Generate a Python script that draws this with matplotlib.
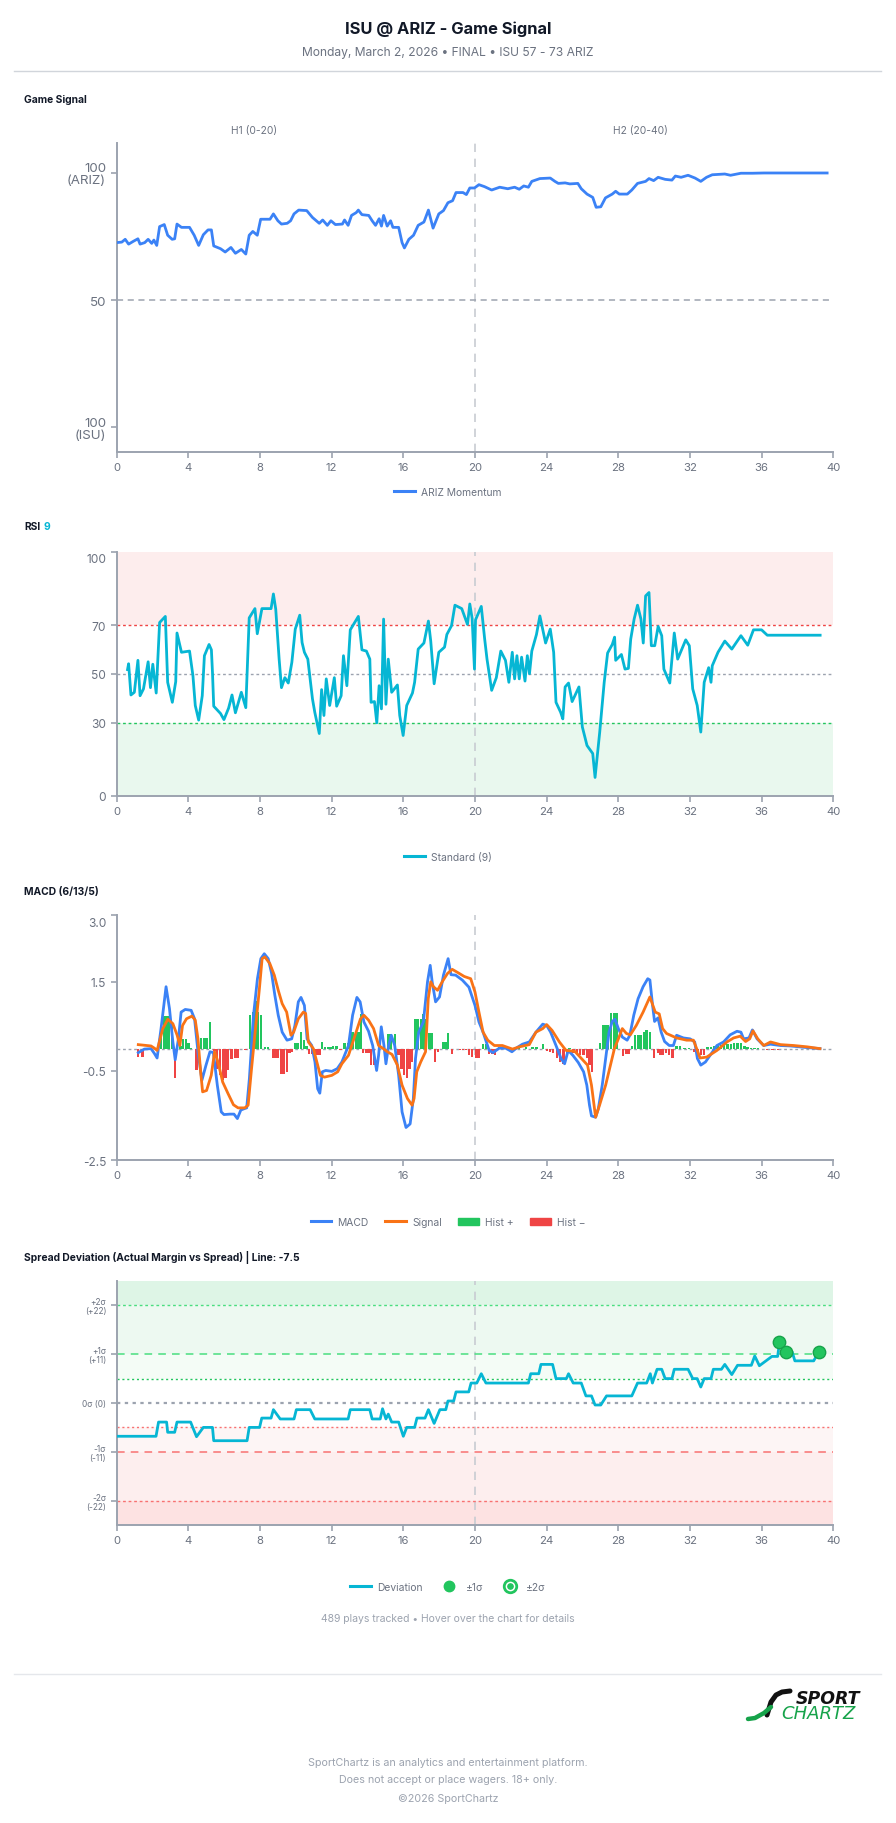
import matplotlib as mpl
import matplotlib.pyplot as plt
from matplotlib.lines import Line2D
from matplotlib.patches import Patch
from matplotlib.transforms import ScaledTranslation

mpl.rcParams['font.family'] = ['Inter', 'DejaVu Sans']

W, H = 896, 1824

# ---- Game Signal (ARIZ momentum, 0 = ISU 100, 100 = ARIZ 100)
gs_t = [0.0, 0.29, 0.48, 0.67, 0.93, 1.19, 1.31, 1.57, 1.76, 1.96, 2.08, 2.24, 2.40, 2.66, 2.85,
        3.10, 3.24, 3.37, 3.62, 4.07, 4.33, 4.58, 4.84, 5.10, 5.29, 5.42, 5.80, 6.06, 6.38, 6.63,
        6.96, 7.21, 7.40, 7.60, 7.85, 8.04, 8.56, 8.75, 9.00, 9.20, 9.52, 9.71, 9.90, 10.16, 10.61,
        10.93, 11.31, 11.50, 11.76, 11.96, 12.21, 12.60, 12.72, 12.92, 13.11, 13.37, 13.49, 13.69,
        14.07, 14.26, 14.45, 14.65, 14.78, 14.90, 15.10, 15.29, 15.42, 15.74, 15.93, 16.06, 16.31,
        16.57, 16.83, 17.15, 17.40, 17.66, 17.98, 18.24, 18.49, 18.75, 18.94, 19.33, 19.52, 19.71,
        19.97, 20.22, 20.54, 20.93, 21.38, 21.83, 22.21, 22.47, 22.72, 22.98, 23.17, 23.62, 24.20,
        24.46, 24.65, 25.03, 25.29, 25.74, 25.93, 26.25, 26.57, 26.76, 27.02, 27.28, 27.66, 27.85,
        28.05, 28.50, 28.75, 29.07, 29.52, 29.71, 29.97, 30.22, 30.61, 30.99, 31.18, 31.50, 31.89,
        32.28, 32.60, 32.92, 33.24, 33.94, 34.26, 34.84, 35.48, 36.12, 39.65]
gs_v = [72.6, 72.8, 73.9, 72.0, 73.1, 74.1, 72.0, 72.6, 73.9, 72.3, 73.6, 71.5, 78.9, 79.7, 75.5,
        73.9, 74.1, 79.9, 78.6, 78.6, 75.5, 71.5, 75.7, 77.6, 77.6, 71.3, 70.2, 68.9, 70.7, 68.4,
        69.9, 68.1, 75.5, 77.0, 75.5, 81.8, 81.8, 83.9, 81.2, 79.9, 80.2, 81.2, 83.9, 85.4, 85.2,
        82.5, 80.2, 81.5, 79.4, 81.2, 79.7, 79.9, 81.5, 79.4, 83.3, 84.4, 85.4, 83.6,
        83.3, 81.2, 79.4, 82.0, 79.1, 83.3, 79.1, 81.2, 78.6, 78.6, 72.6, 70.5, 73.9,
        75.5, 79.4, 80.7, 85.4, 78.3, 83.9, 85.2, 88.3, 89.1, 92.3, 92.3, 91.5, 94.1,
        94.1, 95.4, 94.6, 93.3, 94.4, 93.8, 94.4, 93.6, 94.9, 94.4, 96.7, 97.8, 98.0,
        96.7, 95.9, 96.1, 95.7, 95.9, 93.8, 91.7, 90.4, 86.5, 86.7, 90.2, 91.7, 92.8,
        91.7, 91.7, 93.3, 95.9, 96.7, 97.8, 97.0, 98.3, 97.5, 97.2, 98.8, 98.3, 99.1,
        98.0, 96.7, 98.3, 99.3, 99.6, 99.1, 99.9, 99.9, 100.0, 100.0]

# ---- RSI (9)
rsi_t = [0.61, 0.67, 0.80, 0.99, 1.19, 1.31, 1.50, 1.76, 1.89, 2.02, 2.21, 2.40, 2.72, 2.85, 3.11,
         3.30, 3.37, 3.62, 4.07, 4.26, 4.39, 4.58, 4.78, 4.90, 5.16, 5.29, 5.35, 5.42, 5.80, 5.99,
         6.25, 6.44, 6.63, 6.96, 7.21, 7.40, 7.72, 7.85, 8.11, 8.62, 8.75, 8.88, 9.07, 9.20, 9.39,
         9.58, 9.78, 9.97, 10.22, 10.35, 10.48, 10.67, 10.93, 11.06, 11.31, 11.44, 11.57, 11.70,
         11.89, 12.15, 12.28, 12.53, 12.66, 12.85, 13.04, 13.49, 13.69, 13.94, 14.13, 14.20, 14.39,
         14.52, 14.65, 14.78, 14.90, 15.03, 15.16, 15.35, 15.67, 15.80, 15.99, 16.19, 16.51, 16.63,
         16.83, 17.15, 17.40, 17.53, 17.72, 17.98, 18.30, 18.43, 18.69, 18.88, 19.26, 19.58, 19.71,
         19.84, 19.97, 20.03, 20.35, 20.54, 20.67, 20.93, 21.19, 21.44, 21.70, 21.89, 22.08, 22.21,
         22.34, 22.47, 22.60, 22.79, 22.92, 23.04, 23.17, 23.43, 23.62, 23.94, 24.20, 24.39, 24.52,
         24.78, 24.90, 25.03, 25.22, 25.42, 25.80, 25.99, 26.25, 26.57, 26.70, 26.96, 27.21, 27.40,
         27.66, 27.79, 27.85, 28.17, 28.37, 28.56, 28.69, 28.88, 29.07, 29.26, 29.39, 29.52, 29.71,
         29.84, 30.03, 30.22, 30.42, 30.54, 30.87, 31.12, 31.31, 31.76, 31.96, 32.15, 32.40, 32.60,
         32.79, 33.04, 33.17, 33.24, 33.56, 33.94, 34.33, 34.84, 35.22, 35.54, 35.99, 36.31, 39.26]
rsi_v = [51.8, 54.2, 41.4, 42.5, 55.6, 41.1, 43.9, 55.0, 44.4, 54.0, 42.2, 71.1, 73.6, 46.6, 38.4,
         46.9, 66.8, 58.9, 59.4, 49.3, 37.1, 31.1, 41.1, 57.5, 62.1, 59.9, 50.7, 36.8, 33.8, 31.3,
         36.0, 41.4, 34.1, 42.5, 36.2, 73.0, 76.8, 66.5, 76.8, 76.8, 82.8, 76.6, 56.1, 44.4, 48.5,
         46.3, 54.8, 68.4, 74.1, 62.9, 58.9, 56.1, 39.8, 34.3, 25.6, 43.6, 33.0, 48.0,
         37.1, 48.5, 36.8, 41.1, 57.5, 45.2, 68.1, 73.6, 59.9, 59.4, 56.1, 38.4, 38.7,
         30.0, 45.2, 35.7, 72.5, 37.6, 56.1, 42.5, 45.5, 33.0, 24.8, 37.1, 42.2, 46.6,
         60.2, 62.7, 71.7, 63.5, 46.0, 58.9, 61.0, 66.2, 69.8, 78.2, 76.8, 70.3, 78.7,
         72.8, 52.0, 72.2, 77.7, 64.3, 56.1, 43.3, 48.5, 59.4, 55.6, 46.6, 58.9, 48.0,
         57.5, 48.0, 56.9, 47.1, 57.5, 50.1, 59.4, 66.2, 73.8, 62.7, 68.4, 58.9, 38.4,
         34.3, 31.6, 44.7, 46.3, 38.7, 44.7, 28.3, 20.7, 17.4, 7.6, 26.2, 46.6, 58.6,
         62.1, 65.1, 55.6, 58.0, 52.0, 52.3, 64.3, 72.5, 78.2, 72.5, 62.7, 82.0, 83.4,
         61.6, 61.6, 69.5, 65.7, 52.0, 46.3, 66.8, 56.1, 64.0, 61.6, 43.9, 37.1, 26.2,
         46.6, 52.6, 46.6, 53.4, 58.9, 63.5, 60.2, 65.7, 61.8, 68.1, 68.1, 65.9, 65.9]

# ---- MACD (6/13/5)
macd_t = [1.21, 1.55, 1.92, 2.11, 2.26, 2.48, 2.76, 2.95, 3.14, 3.27, 3.45, 3.60, 3.83, 4.16, 4.35,
          4.54, 4.76, 4.99, 5.21, 5.40, 5.62, 5.84, 5.99, 6.33, 6.55, 6.74, 6.93, 7.11, 7.26, 7.41,
          7.64, 7.86, 8.05, 8.24, 8.46, 8.65, 8.83, 9.02, 9.24, 9.51, 9.77, 9.95, 10.14, 10.29,
          10.48, 10.63, 10.89, 11.07, 11.22, 11.34, 11.48, 11.67, 12.01, 12.31, 12.57, 12.94, 13.17,
          13.41, 13.59, 13.80, 14.06, 14.29, 14.51, 14.62, 14.77, 14.92, 15.03, 15.18, 15.33, 15.52,
          15.74, 15.93, 16.15, 16.38, 16.56, 16.68, 16.86, 17.12, 17.35, 17.50, 17.61, 17.80, 18.02,
          18.24, 18.50, 18.66, 18.92, 19.29, 19.66, 20.00, 20.22, 20.45, 20.79, 21.01, 21.35, 21.72,
          22.06, 22.37, 22.65, 23.03, 23.40, 23.78, 24.00, 24.22, 24.52, 24.80, 25.00, 25.20, 25.46,
          25.76, 26.06, 26.24, 26.39, 26.50, 26.73, 26.88, 27.10, 27.29, 27.48, 27.66, 27.81, 28.00,
          28.22, 28.49, 28.64, 28.86, 29.10, 29.38, 29.64, 29.76, 29.91, 30.02, 30.21, 30.39, 30.58,
          30.84, 31.07, 31.25, 31.63, 32.00, 32.26, 32.41, 32.60, 32.86, 33.12, 33.50, 33.87, 34.24,
          34.62, 34.84, 34.99, 35.29, 35.48, 35.74, 36.11, 36.49, 37.05, 37.61, 38.36, 39.25]
macd_v = [-0.09, -0.01, 0.0, -0.11, -0.21, 0.45, 1.39, 0.90, 0.15, -0.25, 0.22, 0.82, 0.88, 0.86, 0.67,
          -0.07, -0.71, -0.37, -0.07, -0.09, -0.82, -1.42, -1.48, -1.47, -1.47, -1.57, -1.38, -1.35,
          -1.33, -0.67, 0.75, 1.57, 2.02, 2.13, 2.02, 1.69, 1.20, 0.75, 0.37, 0.19, 0.22, 0.52, 1.05,
          1.15, 0.97, 0.22, 0.07, -0.30, -0.90, -1.00, -0.52, -0.49, -0.51, -0.45, -0.30, 0.07, 0.75,
          1.15, 1.05, 0.60, 0.39, 0.07, -0.49, -0.15, 0.49, 0.07, -0.34, 0.07, 0.30, 0.07,
          -0.60, -1.42, -1.77, -1.69, -1.12, -0.22, 0.37, 0.60, 1.50, 1.87, 1.50, 1.05, 1.16,
          1.65, 2.02, 1.66, 1.65, 1.54, 1.38, 0.97, 0.60, 0.37, -0.04, -0.09, 0.01, 0.01,
          -0.07, 0.03, 0.10, 0.15, 0.37, 0.55, 0.52, 0.37, 0.07, -0.22, -0.34, -0.04, -0.15,
          -0.31, -0.52, -0.82, -1.27, -1.51, -1.54, -1.35, -0.82, -0.22, 0.37, 0.61, 0.66, 0.45,
          0.26, 0.19, 0.30, 0.75, 1.12, 1.39, 1.57, 1.54, 0.97, 0.61, 0.69, 0.37, 0.16,
          0.07, 0.07, 0.30, 0.24, 0.22, 0.15, -0.22, -0.37, -0.30, -0.15, 0.07, 0.15, 0.31,
          0.39, 0.37, 0.22, 0.24, 0.42, 0.22, 0.07, 0.10, 0.07, 0.06, 0.03, 0.0]

sig_t = [1.21, 1.92, 2.11, 2.26, 2.58, 2.86, 3.14, 3.38, 3.53, 3.68, 3.90, 4.20, 4.39, 4.54, 4.69,
         4.80, 5.02, 5.28, 5.47, 5.66, 5.92, 6.22, 6.52, 6.78, 7.15, 7.34, 7.53, 7.75, 7.97, 8.12,
         8.27, 8.55, 8.80, 9.02, 9.24, 9.49, 9.73, 9.88, 10.14, 10.42, 10.55, 10.70, 10.98, 11.22,
         11.37, 11.60, 12.01, 12.34, 12.57, 12.94, 13.31, 13.61, 13.80, 14.06, 14.34, 14.62, 14.85,
         15.11, 15.37, 15.67, 15.93, 16.23, 16.49, 16.60, 16.75, 16.97, 17.24, 17.39, 17.53, 17.68,
         17.91, 18.17, 18.47, 18.73, 19.03, 19.40, 19.76, 20.00, 20.22, 20.45, 20.71, 21.08, 21.53,
         22.09, 22.47, 23.03, 23.40, 23.78, 24.00, 24.30, 24.71, 25.08, 25.57, 25.94, 26.28, 26.50,
         26.73, 26.95, 27.29, 27.51, 27.78, 28.00, 28.22, 28.45, 28.67, 29.00, 29.38, 29.76, 30.06,
         30.28, 30.47, 30.69, 31.25, 31.81, 32.19, 32.37, 32.56, 32.93, 33.50, 34.06, 34.43, 34.80,
         35.10, 35.33, 35.51, 35.78, 36.11, 36.49, 37.05, 37.79, 38.54, 39.25]
sig_v = [0.09, 0.06, 0.01, -0.04, 0.45, 0.66, 0.56, 0.30, 0.07, 0.52, 0.67, 0.73, 0.64, 0.22, -0.52,
         -0.97, -0.94, -0.60, -0.07, -0.30, -0.75, -1.01, -1.26, -1.33, -1.33, -1.27, -0.45, 0.45,
         1.35, 2.02, 2.06, 1.91, 1.65, 1.31, 1.01, 0.82, 0.30, 0.37, 0.67, 0.82, 0.79, 0.15, 0.0,
         -0.37, -0.60, -0.64, -0.60, -0.52, -0.34, -0.15, 0.30, 0.67, 0.75, 0.64, 0.45, 0.07, 0.01,
         -0.07, -0.13, -0.37, -0.82, -1.12, -1.27, -1.12, -0.52, -0.30, -0.07, 1.12, 1.50, 1.39,
         1.31, 1.50, 1.69, 1.78, 1.71, 1.62, 1.57, 1.27, 0.82, 0.37, 0.19, 0.07, 0.07,
         -0.01, 0.04, 0.09, 0.37, 0.45, 0.54, 0.41, 0.15, -0.04, -0.06, -0.22, -0.37, -0.82,
         -1.54, -1.27, -0.82, -0.45, 0.0, 0.22, 0.45, 0.34, 0.31, 0.52, 0.82, 1.16, 0.82,
         0.78, 0.45, 0.34, 0.24, 0.19, 0.19, 0.0, -0.21, -0.19, -0.04, 0.15, 0.24, 0.28,
         0.16, 0.22, 0.40, 0.22, 0.07, 0.15, 0.09, 0.07, 0.04, 0.0]

hist_t = [1.21, 1.44, 2.48, 2.63, 2.78, 2.93, 3.08, 3.27, 3.57, 3.72, 3.87, 4.01, 4.16, 4.46, 4.72,
          4.87, 5.02, 5.21, 5.47, 5.62, 5.77, 5.92, 6.07, 6.22, 6.41, 6.59, 6.74, 7.19, 7.45, 7.60,
          7.75, 7.90, 8.05, 8.27, 8.46, 8.72, 8.87, 9.02, 9.21, 9.36, 9.51, 9.65, 9.80, 9.99, 10.14,
          10.29, 10.44, 10.59, 10.74, 10.89, 11.07, 11.22, 11.34, 11.48, 11.63, 11.78, 11.93, 12.08,
          12.27, 12.49, 12.72, 12.90, 13.05, 13.20, 13.35, 13.50, 13.63, 13.76, 13.91, 14.06, 14.21,
          14.36, 15.18, 15.33, 15.52, 15.74, 15.89, 16.04, 16.19, 16.34, 16.49, 16.68, 16.83, 16.97,
          17.12, 17.27, 17.46, 17.61, 17.76, 17.95, 18.21, 18.36, 18.51, 18.73, 19.18, 19.33, 19.51,
          19.66, 19.85, 20.04, 20.19, 20.45, 20.64, 20.79, 20.97, 21.12, 21.35, 21.53, 22.09, 22.47,
          22.84, 23.21, 23.44, 23.78, 24.00, 24.19, 24.37, 24.56, 24.75, 24.93, 25.12, 25.27, 25.50,
          25.68, 25.87, 26.06, 26.24, 26.39, 26.54, 26.99, 27.14, 27.29, 27.44, 27.59, 27.74, 27.89,
          28.26, 28.45, 28.60, 28.75, 28.93, 29.08, 29.23, 29.42, 29.57, 29.76, 29.98, 30.21, 30.36,
          30.50, 30.65, 30.84, 31.03, 31.25, 31.44, 31.70, 31.93, 32.22, 32.41, 32.60, 32.79, 32.97,
          33.16, 33.35, 33.53, 33.72, 33.91, 34.09, 34.28, 34.47, 34.65, 34.84, 35.03, 35.21, 35.40,
          35.59, 35.78, 36.30, 36.60, 36.90, 37.20, 37.50, 37.80, 38.10, 38.40]
hist_v = [-0.19, -0.19, 0.30, 0.73, 0.73, 0.73, 0.52, -0.67, 0.07, 0.22, 0.22, 0.13, 0.02, -0.48, 0.25,
          0.25, 0.25, 0.60, -0.05, -0.45, -0.60, -0.71, -0.67, -0.49, -0.24, -0.22, -0.22, -0.04, 0.75, 0.82,
          1.06, 0.82, 0.75, 0.03, 0.03, -0.22, -0.22, -0.22, -0.56, -0.56, -0.52, -0.10, -0.08, 0.13, 0.13,
          0.37, 0.19, 0.07, -0.13, -0.11, -0.09, -0.15, -0.15, 0.16, 0.04, 0.04, 0.04, 0.07,
          0.07, -0.02, 0.13, 0.13, 0.37, 0.37, 0.37, 0.37, 0.78, -0.09, -0.09, -0.09, -0.37,
          -0.37, 0.33, 0.33, 0.33, -0.15, -0.45, -0.60, -0.67, -0.45, -0.30, 0.66, 0.66, 0.66,
          0.78, 0.66, 0.34, 0.34, -0.30, -0.07, 0.16, 0.16, 0.34, -0.11, -0.04, -0.04, -0.04,
          -0.15, -0.19, -0.22, -0.22, 0.10, 0.10, -0.13, -0.13, -0.15, 0.03, 0.03, 0.02, 0.04,
          0.04, 0.04, 0.03, 0.10, -0.06, -0.07, -0.09, -0.22, -0.30, -0.34, -0.11, 0.02, -0.09,
          -0.11, -0.15, -0.15, -0.22, -0.37, -0.52, 0.13, 0.52, 0.52, 0.52, 0.79, 0.79, 0.79,
          -0.16, -0.13, -0.13, 0.07, 0.30, 0.30, 0.30, 0.37, 0.42, 0.37, -0.22, -0.09, -0.15,
          -0.15, -0.09, -0.15, -0.22, 0.05, 0.05, 0.02, 0.02, -0.07, -0.09, -0.15, -0.15, 0.03,
          0.03, 0.05, 0.07, 0.09, 0.09, 0.11, 0.11, 0.13, 0.13, 0.12, 0.07, 0.04, 0.01,
          0.01, 0.01, -0.02, -0.02, -0.02, -0.015, -0.015, -0.01, -0.01, -0.01]

# ---- Spread deviation (actual margin vs spread, line -7.5)
dev_t = [0.0, 2.20, 2.34, 2.79, 2.85, 3.24, 3.37, 4.13, 4.46, 4.84, 5.35, 5.42, 7.28, 7.40, 7.98,
         8.10, 8.62, 8.75, 9.13, 9.90, 10.03, 10.80, 11.06, 12.92, 13.04, 14.13, 14.26, 14.71, 14.84,
         15.03, 15.16, 15.35, 15.74, 16.00, 16.19, 16.63, 16.76, 17.21, 17.40, 17.72, 18.04, 18.37,
         18.49, 18.81, 18.94, 19.65, 19.78, 20.10, 20.35, 20.61, 22.98, 23.11, 23.56, 23.68, 24.33,
         24.52, 25.10, 25.22, 25.48, 25.93, 26.19, 26.50, 26.70, 27.02, 27.34, 28.75, 29.07, 29.58,
         29.78, 29.90, 30.16, 30.42, 30.61, 30.99, 31.12, 31.89, 32.15, 32.40, 32.60, 32.79, 33.17,
         33.30, 33.75, 33.94, 34.33, 34.65, 35.42, 35.61, 35.87, 36.57, 36.89, 36.99, 37.37, 37.70,
         37.85, 38.90, 39.18]
dev_v = [-7.5, -7.5, -4.3, -4.3, -6.6, -6.6, -4.3, -4.3, -7.6, -5.5, -5.5, -8.5, -8.5, -5.5, -5.5,
         -3.4, -3.4, -1.5, -3.6, -3.6, -1.5, -1.5, -3.6, -3.6, -1.5, -1.5, -3.6, -3.6, -1.3,
         -3.6, -2.5, -4.3, -4.3, -7.5, -5.5, -5.5, -3.4, -3.4, -1.5, -4.6, -1.5, -1.5,
         0.45, 0.45, 2.5, 2.5, 4.5, 4.5, 6.6, 4.5, 4.5, 6.6, 6.6, 8.7, 8.7,
         5.5, 5.5, 6.6, 4.5, 4.5, 1.6, 1.6, -0.45, -0.45, 1.6, 1.6, 4.5, 4.5,
         6.6, 4.5, 7.6, 7.6, 5.5, 5.5, 7.6, 7.6, 5.5, 5.5, 3.6, 5.5, 5.5,
         7.6, 7.6, 8.7, 6.4, 8.5, 8.5, 10.6, 8.4, 10.5, 10.5, 13.7, 11.5, 11.5,
         9.5, 9.5, 11.5]
alert_t = [36.99, 37.37, 39.18]
alert_v = [13.7, 11.5, 11.5]

sigma = 11
sigma_ticks = [22, 11, 0, -11, -22]
sigma_labels = ['+2σ\n(+22)', '+1σ\n(+11)', '0σ (0)', '-1σ\n(-11)', '-2σ\n(-22)']
x_ticks = [0, 4, 8, 12, 16, 20, 24, 28, 32, 36, 40]

BLUE = '#3b82f6'
CYAN = '#06b6d4'
ORANGE = '#f97316'
GREEN = '#22c55e'
RED = '#ef4444'
AXIS = '#9ca3af'
TXT = '#6b7280'
LIGHT = '#9ca3af'

fig = plt.figure(figsize=(W / 100, H / 100), dpi=100)


def fy(y):
    return 1 - y / H


def px_axes(top, bottom, left=116.6, right=833.4):
    return fig.add_axes([left / W, fy(bottom), (right - left) / W, (bottom - top) / H])


def style_axes(ax):
    for s in ['top', 'right']:
        ax.spines[s].set_visible(False)
    for s in ['left', 'bottom']:
        ax.spines[s].set_color(AXIS)
        ax.spines[s].set_linewidth(1.4)
    ax.tick_params(colors=AXIS, labelcolor=TXT, labelsize=8.2, length=4, width=1.2)
    ax.tick_params(axis='y', labelsize=8.6)
    ax.set_xlim(0, 40)
    ax.set_xticks(x_ticks)
    ax.axvline(20, color='#c8ccd2', lw=1.2, ls=(0, (5, 4)), zorder=1)


def nudge_down(label, px):
    label.set_transform(label.get_transform() + ScaledTranslation(0, -px / 100, fig.dpi_scale_trans))


def section_label(y, text):
    fig.text(24 / W, fy(y), text, fontsize=7.4, fontweight='bold', color='#111827', va='center')


def legend_at(ax, handles, labels, y, ncol):
    ax.legend(handles, labels, loc='center', bbox_to_anchor=(0.5, fy(y)), bbox_transform=fig.transFigure,
              ncol=ncol, frameon=False, fontsize=7.4, labelcolor=TXT, handlelength=2.0,
              columnspacing=1.6, handletextpad=0.6)


# header
fig.text(0.5, fy(29), 'ISU @ ARIZ - Game Signal', ha='center', va='center', fontsize=11.9,
         fontweight='bold', color='#111827')
fig.text(0.5, fy(53), 'Monday, March 2, 2026 • FINAL • ISU 57 - 73 ARIZ', ha='center', va='center',
         fontsize=8.7, color=TXT)
fig.add_artist(Line2D([14 / W, 881 / W], [fy(72), fy(72)], color='#d1d5db', lw=1.0))

# ---- Game Signal panel
section_label(100, 'Game Signal')
fig.text(254 / W, fy(131), 'H1 (0-20)', ha='center', va='center', fontsize=7.4, color=TXT)
fig.text(640 / W, fy(131), 'H2 (20-40)', ha='center', va='center', fontsize=7.4, color=TXT)
ax1 = px_axes(144, 453)
style_axes(ax1)
ax1.set_ylim(-9.8, 111.8)
ax1.set_yticks([100, 50, 0])
ax1.set_yticklabels(['100\n(ARIZ)', '50', '100\n(ISU)'], linespacing=1.0, fontsize=9.6)
ax1.axhline(50, color='#9ca3af', lw=1.1, ls=(0, (4, 3)), zorder=1)
ax1.plot(gs_t, gs_v, color=BLUE, lw=2.0, zorder=3, solid_joinstyle='round')
legend_at(ax1, [Line2D([], [], color=BLUE, lw=2.2)], ['ARIZ Momentum'], 493, 1)

# ---- RSI panel
fig.text(24 / W, fy(527), 'RSI', fontsize=7.4, fontweight='bold', color='#111827', va='center')
fig.text(43 / W, fy(527), '9', fontsize=7.4, fontweight='bold', color=CYAN, va='center')
ax2 = px_axes(553, 797)
style_axes(ax2)
ax2.set_ylim(0, 100)
ax2.set_yticks([0, 30, 50, 70, 100])
nudge_down(ax2.get_yticklabels()[-1], 6)
ax2.axhspan(70, 100, color='#fdeded', lw=0, zorder=0)
ax2.axhspan(0, 30, color='#e9f8ee', lw=0, zorder=0)
ax2.axhline(70, color=RED, lw=1.0, ls=(0, (2, 2)), zorder=1)
ax2.axhline(30, color=GREEN, lw=1.0, ls=(0, (2, 2)), zorder=1)
ax2.axhline(50, color='#9ca3af', lw=1.0, ls=(0, (2, 2)), zorder=1)
ax2.plot(rsi_t, rsi_v, color=CYAN, lw=2.0, zorder=3)
legend_at(ax2, [Line2D([], [], color=CYAN, lw=2.2)], ['Standard (9)'], 858, 1)

# ---- MACD panel
section_label(892, 'MACD (6/13/5)')
ax3 = px_axes(916, 1161)
style_axes(ax3)
ax3.set_ylim(-2.5, 3.0)
ax3.set_yticks([3.0, 1.5, -0.5, -2.5])
ax3.set_yticklabels(['3.0', '1.5', '-0.5', '-2.5'])
nudge_down(ax3.get_yticklabels()[0], 7)
ax3.axhline(0, color='#9ca3af', lw=1.0, ls=(0, (2, 2)), zorder=1)
hist_colors = [GREEN if v >= 0 else RED for v in hist_v]
ax3.bar(hist_t, hist_v, width=0.13, color=hist_colors, zorder=2)
ax3.plot(macd_t, macd_v, color=BLUE, lw=2.0, zorder=3)
ax3.plot(sig_t, sig_v, color=ORANGE, lw=2.0, zorder=4)
legend_at(ax3, [Line2D([], [], color=BLUE, lw=2.2), Line2D([], [], color=ORANGE, lw=2.2),
                Patch(color=GREEN), Patch(color=RED)],
          ['MACD', 'Signal', 'Hist +', 'Hist −'], 1223, 4)

# ---- Spread deviation panel
section_label(1257, 'Spread Deviation (Actual Margin vs Spread) | Line: -7.5')
ax4 = px_axes(1282, 1526)
style_axes(ax4)
ax4.set_ylim(-27.5, 27.5)
ax4.set_yticks(sigma_ticks)
ax4.set_yticklabels(sigma_labels, fontsize=6.0, linespacing=1.0)
bands = [(2 * sigma, 27.5, '#def5e6'), (sigma, 2 * sigma, '#edf9f1'), (sigma / 2, sigma, '#f4fcf6'),
         (-sigma, -sigma / 2, '#fdf5f5'), (-2 * sigma, -sigma, '#fdeeee'), (-27.5, -2 * sigma, '#fde2e2')]
for lo, hi, c in bands:
    ax4.axhspan(lo, hi, color=c, lw=0, zorder=0)
ax4.axhline(2 * sigma, color='#4ade80', lw=1.0, ls=(0, (2, 2)), zorder=1)
ax4.axhline(sigma, color='#4ade80', lw=1.1, ls=(0, (5, 4)), zorder=1)
ax4.axhline(sigma / 2, color=GREEN, lw=1.0, ls=(0, (1.5, 2)), zorder=1)
ax4.axhline(0, color='#9ca3af', lw=1.6, ls=(0, (1.5, 2)), zorder=1)
ax4.axhline(-sigma / 2, color='#f87171', lw=1.0, ls=(0, (1.5, 2)), zorder=1)
ax4.axhline(-sigma, color='#f87171', lw=1.1, ls=(0, (5, 4)), zorder=1)
ax4.axhline(-2 * sigma, color='#f87171', lw=1.0, ls=(0, (2, 2)), zorder=1)
ax4.plot(dev_t, dev_v, color=CYAN, lw=2.0, zorder=3)
ax4.scatter(alert_t, alert_v, s=80, color=GREEN, edgecolor='#16a34a', linewidth=1.0, zorder=4)
ring = Line2D([], [], marker='o', ls='none', markersize=9, markerfacecolor='white',
              markeredgecolor=GREEN, markeredgewidth=2.0)
dot_in = Line2D([], [], marker='o', ls='none', markersize=3.8, color=GREEN)
legend_at(ax4, [Line2D([], [], color=CYAN, lw=2.2),
                Line2D([], [], marker='o', ls='none', markersize=7.5, color=GREEN),
                (ring, dot_in)],
          ['Deviation', '±1σ', '±2σ'], 1588, 3)

fig.text(0.5, fy(1619), '489 plays tracked • Hover over the chart for details', ha='center', va='center',
         fontsize=7.5, color=LIGHT)

# footer
fig.add_artist(Line2D([14 / W, 881 / W], [fy(1675), fy(1675)], color='#e5e7eb', lw=1.0))
logo = fig.add_axes([744 / W, fy(1724), 126 / W, 38 / H])
logo.set_xlim(0, 126)
logo.set_ylim(38, 0)
logo.axis('off')
logo.plot([46, 38, 32, 27, 23], [6, 7, 10, 17, 30], color='#111111', lw=3.6, solid_capstyle='round')
logo.plot([4, 11, 20, 27], [34, 33, 28, 22], color='#16a34a', lw=3.2, solid_capstyle='round')
logo.text(116, 13, 'SPORT', ha='right', va='center', fontsize=12.5, fontweight='bold', style='italic',
          family='DejaVu Sans', color='#111111')
logo.text(112, 28, 'CHARTZ', ha='right', va='center', fontsize=13.0, style='italic',
          family='DejaVu Sans', color='#16a34a')

fig.text(0.5, fy(1763), 'SportChartz is an analytics and entertainment platform.', ha='center',
         va='center', fontsize=7.7, color=LIGHT)
fig.text(0.5, fy(1780), 'Does not accept or place wagers. 18+ only.', ha='center', va='center',
         fontsize=7.7, color=LIGHT)
fig.text(0.5, fy(1799), '©2026 SportChartz', ha='center', va='center', fontsize=7.7, color=LIGHT)

fig.savefig('out.png', dpi=100, facecolor='white')
